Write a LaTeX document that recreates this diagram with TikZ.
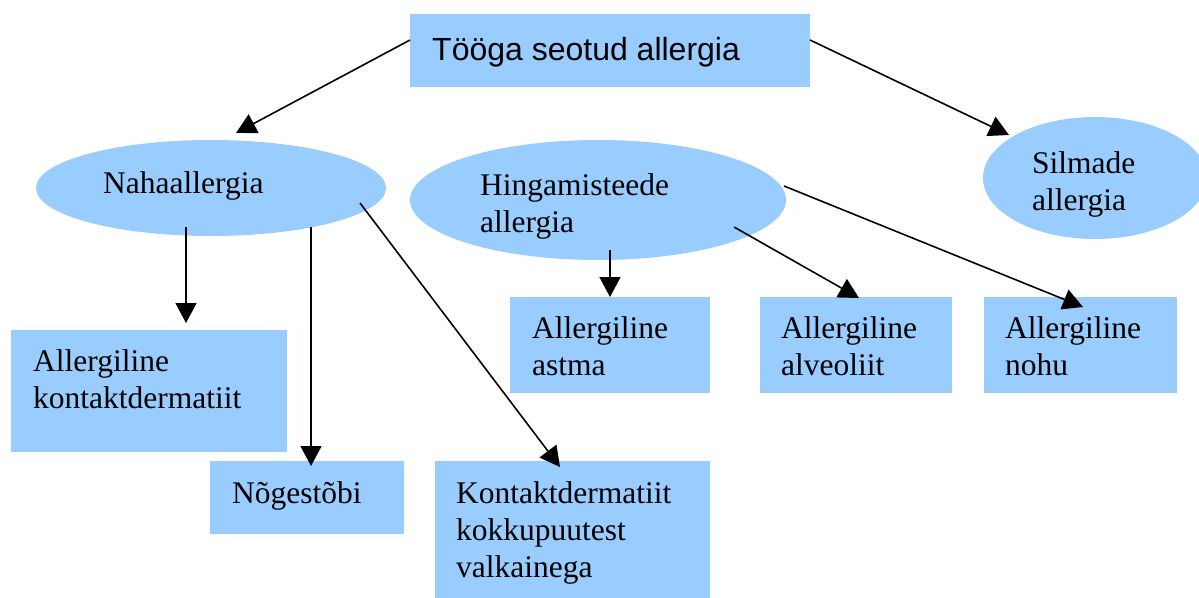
\documentclass[tikz,border=0pt]{standalone}
\usepackage{fontspec}
\setmainfont{Liberation Serif}
\newfontfamily\titlefont{Liberation Sans}
\usetikzlibrary{arrows.meta,shapes.geometric}
\definecolor{boxblue}{HTML}{99CCFF}
\tikzset{
  shapebox/.style={fill=boxblue, draw=none, rectangle, inner sep=0pt, anchor=north west},
  shapeell/.style={fill=boxblue, draw=none, ellipse, inner sep=0pt},
  lbl/.style={anchor=base west, inner sep=0pt, align=left, font=\fontsize{31.5}{36.8}\selectfont},
  conn/.style={line width=1.6pt, -{Triangle[length=20pt,width=21pt]}},
}
\begin{document}
\begin{tikzpicture}[x=1pt,y=-1pt]
\useasboundingbox (0,0) rectangle (1199,597);
% shapes
\node[shapebox, minimum width=400pt, minimum height=73pt] (top) at (410,14) {};
\node[shapeell, minimum width=350pt, minimum height=96pt] (nah) at (211,188) {};
\node[shapeell, minimum width=376pt, minimum height=120pt] (hing) at (598,200) {};
\node[shapeell, minimum width=224pt, minimum height=122pt] (silm) at (1095,178) {};
\node[shapebox, minimum width=276pt, minimum height=122pt] (kd) at (11,330) {};
\node[shapebox, minimum width=194pt, minimum height=73pt] (nog) at (210,461) {};
\node[shapebox, minimum width=275pt, minimum height=140pt] (kdv) at (435,461) {};
\node[shapebox, minimum width=200pt, minimum height=96pt] (ast) at (510,297) {};
\node[shapebox, minimum width=192pt, minimum height=96pt] (alv) at (760,297) {};
\node[shapebox, minimum width=193pt, minimum height=96pt] (noh) at (984,297) {};
% texts (base anchor = baseline of last line)
\node[anchor=base west, inner sep=0pt, font=\titlefont\fontsize{32}{38}\selectfont] (topt) at (432,60) {Tööga seotud allergia};
\node[lbl] (naht) at (103,193) {Nahaallergia};
\node[lbl] (hingt) at (480,232) {Hingamisteede\\allergia};
\node[lbl] (silmt) at (1032,210) {Silmade\\allergia};
\node[lbl] (kdt) at (33,408) {Allergiline\\kontaktdermatiit};
\node[lbl] (nogt) at (232,503) {Nõgestõbi};
\node[lbl] (kdvt) at (456,577) {Kontaktdermatiit\\kokkupuutest\\valkainega};
\node[lbl] (astt) at (532,375) {Allergiline\\astma};
\node[lbl] (alvt) at (781,375) {Allergiline\\alveoliit};
\node[lbl] (noht) at (1005,375) {Allergiline\\nohu};
% connector end points
\coordinate (a1s) at (410,40);  \coordinate (a1e) at (236,133);
\coordinate (a2s) at (810,40);  \coordinate (a2e) at (1009,135);
\coordinate (a3s) at (186,227); \coordinate (a3e) at (186,323);
\coordinate (a4s) at (311,227); \coordinate (a4e) at (311,466);
\coordinate (a5s) at (360,203); \coordinate (a5e) at (560,467);
\coordinate (a6s) at (610,250); \coordinate (a6e) at (610,297);
\coordinate (a7s) at (734,227); \coordinate (a7e) at (859,298);
\coordinate (a8s) at (784,186); \coordinate (a8e) at (1083,307);
\draw[conn] (a1s) -- (a1e);
\draw[conn] (a2s) -- (a2e);
\draw[conn] (a3s) -- (a3e);
\draw[conn] (a4s) -- (a4e);
\draw[conn] (a5s) -- (a5e);
\draw[conn] (a6s) -- (a6e);
\draw[conn] (a7s) -- (a7e);
\draw[conn] (a8s) -- (a8e);
\end{tikzpicture}
\end{document}
